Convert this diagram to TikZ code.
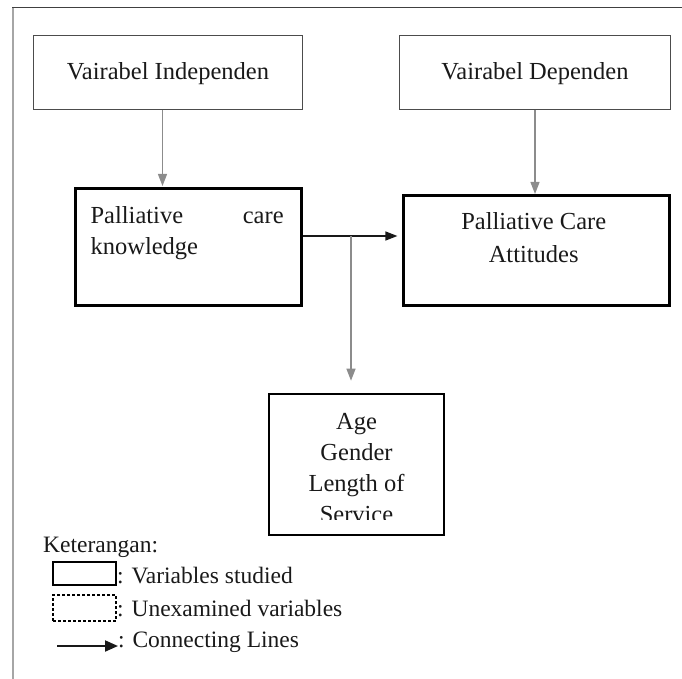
\documentclass[tikz,border=0pt]{standalone}
\usepackage{fontspec}
\setmainfont{Liberation Serif}
\newcommand{\boxfont}{\fontsize{24.5}{31}\selectfont}
\newcommand{\keyfont}{\fontsize{23.5}{30}\selectfont}
\tikzstyle{thinbox} = [rectangle, draw=black!70, line width=1pt,
minimum width=269pt, minimum height=74pt, font=\boxfont, text=black!90]
\tikzstyle{block} = [rectangle, draw, line width=2.6pt, inner sep=0pt]
\tikzstyle{txt} = [inner sep=0pt, font=\boxfont, text=black!90]
\tikzstyle{line} = [draw=black!45, line width=1.2pt, -{Triangle[length=12pt,width=9pt]}]
\tikzstyle{link} = [draw=black!90, line width=1.4pt, -{Triangle[length=12pt,width=9pt]}]
\usetikzlibrary{arrows.meta}
\usetikzlibrary{positioning}

\begin{document}
\begin{tikzpicture}[x=1pt, y=-1pt, node distance=3cm, auto]
\useasboundingbox (0,0) rectangle (682,679);
% frame
\draw[black!35, line width=2pt] (13,679) -- (13,8);
\draw[black!75, line width=1pt] (12,8) -- (682,8);

\node [thinbox, anchor=north west, text depth=2pt] (indep) at (33,35) {Vairabel Independen};
\node [thinbox, minimum width=271pt, text depth=2pt, right=96pt of indep] (dep) {Vairabel Dependen};
\node [block, minimum width=226pt, minimum height=117pt, below=77pt of indep.south east, anchor=north east] (know) {};
\node [block, minimum width=266pt, minimum height=110pt, below=84pt of dep.south east, anchor=north east] (att) {};
\node [block, minimum width=175pt, minimum height=141pt] (demo) at (356.5,464.5) {};

% texts
\node [txt, text width=193pt, align=justify, anchor=base west] (know-txt) at ([xshift=16pt, yshift=-36pt]know.north west) {Palliative care knowledge};
\node [txt, align=center, anchor=base, font=\fontsize{24.5}{33}\selectfont] (att-txt) at ([xshift=-3pt, yshift=-68pt]att.north) {Palliative Care\\Attitudes};
\begin{scope}
\clip ([xshift=2pt]demo.north west) rectangle ([yshift=-127pt]demo.north east);
\node [txt, align=center, anchor=base] (demo-txt) at ([yshift=-130pt]demo.north) {Age\\Gender\\Length of\\Service};
\end{scope}

% connectors
\coordinate (split) at (351,236);
\draw [line, shorten >=1pt] ([xshift=-5.5pt]indep.south) -- ([xshift=-5.5pt]indep.south |- know.north);
\draw [line] (dep.south) -- (dep.south |- att.north);
\draw [link, shorten >=5pt] (split -| know.east) -- (split -| att.west);
\draw [line, shorten >=12pt] (split) -- (split |- demo.north);

% legend
\node [txt, font=\keyfont, anchor=base west] (keys) at (43,552) {Keterangan:};
\node [draw, line width=2pt, minimum width=63pt, minimum height=23pt] (key-solid) at (84.5,573.5) {};
\node [draw, line width=1.8pt, dash pattern=on 3pt off 2pt, minimum width=63pt, minimum height=26pt] (key-dash) at (84.5,608) {};
\node [txt, font=\keyfont, anchor=base west] (key-solid-txt) at (117,583) {: Variables studied};
\node [txt, font=\keyfont, anchor=base west] (key-dash-txt) at (117,616) {: Unexamined variables};
\node [txt, font=\keyfont, anchor=base west] (key-link-txt) at (118,647) {: Connecting Lines};
\coordinate (key-start) at (57,646);
\draw [link, line width=2pt, -{Triangle[length=13pt,width=11pt]}] (key-start) -- (key-start -| key-link-txt.west);
\end{tikzpicture}
\end{document}
